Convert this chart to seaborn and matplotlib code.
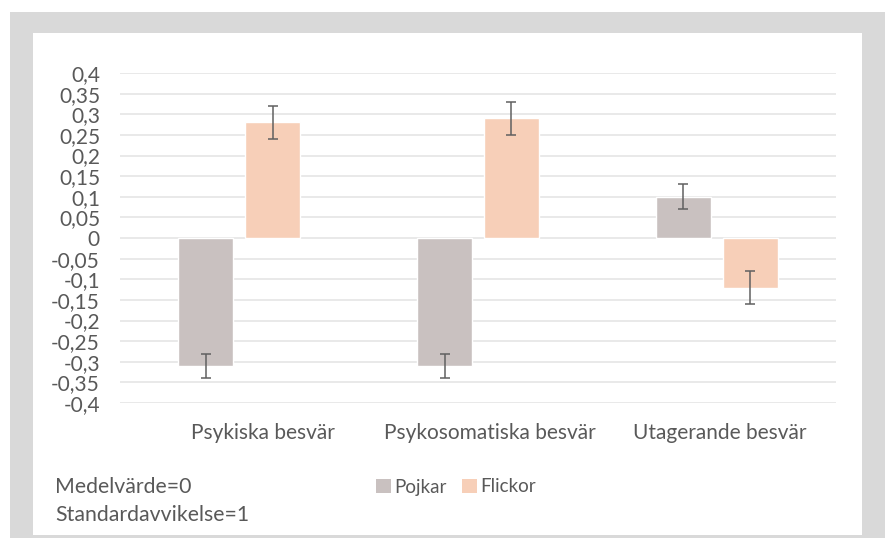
import matplotlib
matplotlib.use("Agg")
import matplotlib.pyplot as plt
import matplotlib.transforms as mtransforms
import seaborn as sns
import pandas as pd
from matplotlib.patches import Rectangle, Patch

categories = ["Psykiska besvär", "Psykosomatiska besvär", "Utagerande besvär"]
groups = ["Pojkar", "Flickor"]
pojkar = [-0.31, -0.31, 0.10]
flickor = [0.28, 0.29, -0.12]
pojkar_err = [0.03, 0.03, 0.03]
flickor_err = [0.04, 0.04, 0.04]
yticks = [-0.4, -0.35, -0.3, -0.25, -0.2, -0.15, -0.1, -0.05, 0, 0.05, 0.1, 0.15, 0.2, 0.25, 0.3, 0.35, 0.4]
ytick_labels = ["-0,4", "-0,35", "-0,3", "-0,25", "-0,2", "-0,15", "-0,1", "-0,05", "0",
                "0,05", "0,1", "0,15", "0,2", "0,25", "0,3", "0,35", "0,4"]
colors = {"Pojkar": "#c9c1c0", "Flickor": "#f7cfb8"}

df = pd.DataFrame({
    "kategori": categories * 2,
    "grupp": ["Pojkar"] * 3 + ["Flickor"] * 3,
    "varde": pojkar + flickor,
})

sns.set_theme(style="white")
plt.rcParams["font.family"] = ["Lato", "DejaVu Sans"]
TXT = "#595959"

W, H = 885, 538
fig = plt.figure(figsize=(W / 100, H / 100), dpi=100)
fig.patch.set_facecolor("white")

def fx(px):
    return px / W

def fy(py):
    return 1 - py / H

# gray frame and white inner panel
fig.patches.append(Rectangle((fx(10), fy(538)), fx(885) - fx(10), fy(12) - fy(538),
                             transform=fig.transFigure, facecolor="#d9d9d9", edgecolor="none", zorder=-2))
fig.patches.append(Rectangle((fx(33), fy(535)), fx(862) - fx(33), fy(33) - fy(535),
                             transform=fig.transFigure, facecolor="white", edgecolor="none", zorder=-1))

ax = fig.add_axes([fx(120), fy(403), fx(836) - fx(120), fy(73) - fy(403)])
ax.set_zorder(1)
ax.patch.set_alpha(0)

sns.barplot(data=df, x="kategori", y="varde", hue="grupp", order=categories, hue_order=groups,
            palette=colors, width=0.561, gap=0.178, errorbar=None, ax=ax, legend=False,
            saturation=1, zorder=3)

errs = {"Pojkar": pojkar_err, "Flickor": flickor_err}
for cont, g in zip(ax.containers, groups):
    xs = [p.get_x() + p.get_width() / 2 for p in cont.patches]
    ys = [p.get_height() for p in cont.patches]
    ax.errorbar(xs, ys, yerr=errs[g], fmt="none", ecolor="#606060", elinewidth=1.1,
                capsize=3.5, capthick=1.1, zorder=4)

ax.set_ylim(-0.4, 0.4)
ax.set_xlim(-0.5, 2.5)
ax.set_yticks(yticks)
ax.set_yticklabels(ytick_labels)
ax.yaxis.grid(True, color="#e3e3e3", linewidth=1.1, zorder=0)
ax.set_axisbelow(True)
for s in ax.spines.values():
    s.set_visible(False)
ax.tick_params(axis="y", length=0, pad=14.4, labelsize=15, labelcolor=TXT)
ax.tick_params(axis="x", length=0, pad=14.5, labelsize=15, labelcolor=TXT)
ax.set_xlabel("")
ax.set_ylabel("")

# small horizontal shifts of the category labels as in the reference
label_shift_px = [24, 12, 3]
for lab, dx in zip(ax.get_xticklabels(), label_shift_px):
    lab.set_transform(lab.get_transform() + mtransforms.ScaledTranslation(dx / 100, 0, fig.dpi_scale_trans))

handles = [Patch(facecolor=colors[g], edgecolor="none", label=g) for g in groups]
fig.legend(handles=handles, loc="center", bbox_to_anchor=(fx(456), fy(487)), ncol=2, frameon=False,
           handlelength=0.8, handleheight=0.8, handletextpad=0.2, columnspacing=0.8,
           fontsize=13.5, labelcolor=TXT)

fig.text(fx(55), fy(487), "Medelvärde=0", fontsize=15.3, color=TXT, va="center", ha="left")
fig.text(fx(55), fy(515), "Standardavvikelse=1", fontsize=15.3, color=TXT, va="center", ha="left")

fig.savefig("out.png", dpi=100)
